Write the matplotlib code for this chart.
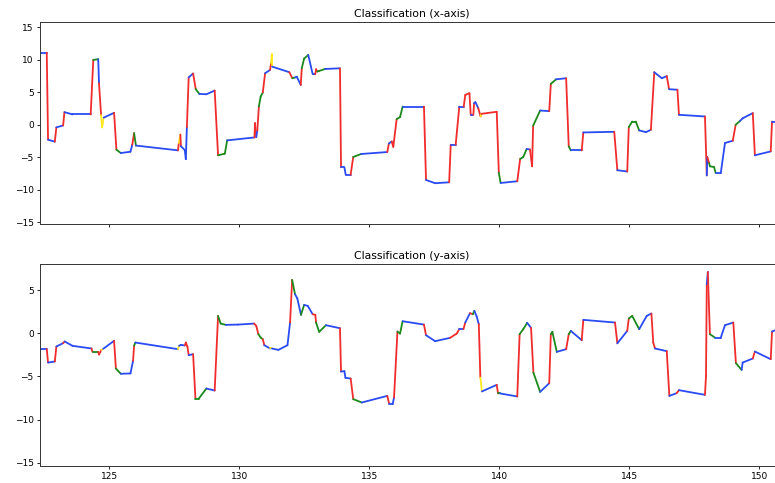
import numpy as np
import matplotlib
matplotlib.use("Agg")
from matplotlib import pyplot as plt
from matplotlib.collections import LineCollection

# class of each sample: b / r / g / y (segment ending at a sample takes its class)
tx = [122.33, 122.59, 122.64, 122.90, 122.96, 123.22, 123.27, 123.58, 124.28, 124.38,
      124.57, 124.60, 124.68, 124.72, 124.78, 125.18, 125.27, 125.44, 125.81, 125.88,
      125.95, 126.02, 127.64, 127.67, 127.73, 127.75, 127.90, 127.94, 127.98, 128.05,
      128.22, 128.32, 128.46, 128.73, 129.05, 129.18, 129.44, 129.53, 130.58, 130.60,
      130.65, 130.69, 130.75, 130.82, 130.90, 130.99, 131.18, 131.22, 131.25, 131.26,
      131.92, 132.04, 132.15, 132.21, 132.36, 132.40, 132.49, 132.65, 132.82, 132.92,
      132.95, 133.00, 133.07, 133.30, 133.87, 133.91, 134.04, 134.09, 134.28, 134.38,
      134.68, 135.69, 135.75, 135.86, 135.92, 136.05, 136.18, 136.28, 137.10, 137.18,
      137.53, 138.07, 138.13, 138.32, 138.46, 138.63, 138.69, 138.85, 138.90, 139.00,
      139.03, 139.08, 139.19, 139.28, 139.31, 139.90, 139.98, 140.05, 140.69, 140.80,
      140.92, 141.05, 141.18, 141.26, 141.30, 141.57, 141.92, 141.98, 142.18, 142.57,
      142.67, 142.75, 143.17, 143.23, 144.42, 144.54, 144.92, 144.98, 145.11, 145.25,
      145.38, 145.64, 145.83, 145.96, 146.25, 146.44, 146.53, 146.85, 146.91, 147.91,
      147.98, 148.00, 148.07, 148.10, 148.26, 148.32, 148.52, 148.68, 148.98, 149.09,
      149.26, 149.36, 149.75, 149.83, 150.44, 150.49, 150.80]
vx = [11.1, 11.1, -2.3, -2.6, -0.4, -0.1, 1.95, 1.6, 1.6, 10.0,
      10.1, 6.4, 1.5, -0.4, 1.1, 1.84, -3.84, -4.35, -4.15, -3.07,
      -1.28, -3.2, -3.94, -2.8, -1.5, -3.3, -3.9, -5.3, -0.36, 7.3,
      7.9, 5.5, 4.76, 4.7, 5.27, -4.7, -4.45, -2.4, -1.95, 0.26,
      -1.9, -0.87, 2.8, 4.35, 4.97, 7.94, 8.45, 9.5, 10.9, 8.96,
      8.1, 7.17, 7.3, 7.4, 6.14, 8.7, 10.2, 10.75, 7.8, 7.8,
      8.55, 8.2, 8.3, 8.6, 8.7, -6.55, -6.55, -7.68, -7.68, -4.96,
      -4.5, -4.2, -2.9, -2.56, -3.4, 0.87, 1.18, 2.8, 2.8, -8.5,
      -9.0, -8.86, -3.07, -3.07, 2.8, 2.8, 4.6, 4.86, 1.54, 1.54,
      3.33, 3.48, 2.56, 1.28, 1.69, 2.0, -7.4, -8.96, -8.7, -5.27,
      -4.96, -3.74, -3.8, -6.4, -0.15, 2.2, 2.1, 6.3, 7.0, 7.17,
      -3.33, -3.95, -3.95, -1.18, -1.08, -7.0, -7.2, -0.36, 0.5, 0.5,
      -0.87, -1.13, -0.77, 8.1, 7.17, 7.5, 5.48, 5.4, 1.54, 1.28,
      -7.8, -4.96, -5.9, -6.4, -6.5, -7.4, -7.4, -2.8, -2.46, 0.0,
      0.6, 1.0, 1.8, -4.7, -4.1, 0.5, 0.5]
cx = list("bbrbrbrbbr"
          "gbryybrgbb"
          "rgbryrbbbr"
          "brgbbrggbr"
          "rbrggrbryy"
          "brgbbrggbb"
          "rrggbrbbbr"
          "gbrbrrggbr"
          "bbrbrbrrrb"
          "rbbryrrgbr"
          "ggbrrgbrgb"
          "rgbrbrbrgg"
          "gbbrbbrbrb"
          "rbrgggbbbr"
          "gbbrbrb")

ty = [122.36, 122.59, 122.64, 122.90, 122.96, 123.22, 123.28, 123.58, 124.31, 124.35,
      124.57, 124.60, 124.69, 124.76, 125.18, 125.25, 125.44, 125.81, 125.91, 125.95,
      126.00, 127.64, 127.68, 127.75, 127.90, 127.94, 128.00, 128.05, 128.22, 128.31,
      128.44, 128.73, 129.05, 129.18, 129.28, 129.48, 129.95, 130.57, 130.65, 130.73,
      130.82, 130.90, 130.96, 131.18, 131.25, 131.50, 131.85, 131.95, 132.03, 132.14,
      132.23, 132.37, 132.49, 132.63, 132.82, 132.92, 132.95, 133.07, 133.33, 133.87,
      133.91, 134.04, 134.08, 134.28, 134.38, 134.71, 135.69, 135.76, 135.90, 135.95,
      136.08, 136.18, 136.28, 137.10, 137.18, 137.53, 138.10, 138.36, 138.46, 138.62,
      138.69, 138.87, 138.98, 139.04, 139.13, 139.21, 139.27, 139.33, 139.90, 139.95,
      140.03, 140.69, 140.78, 140.92, 141.07, 141.22, 141.31, 141.57, 141.92, 141.98,
      142.04, 142.21, 142.57, 142.67, 142.75, 143.17, 143.23, 144.45, 144.54, 144.92,
      144.98, 145.11, 145.38, 145.67, 145.85, 145.92, 145.99, 146.44, 146.54, 146.82,
      146.91, 147.91, 147.95, 147.98, 148.02, 148.10, 148.29, 148.52, 148.68, 149.00,
      149.10, 149.32, 149.36, 149.75, 149.83, 150.44, 150.49, 150.80]
vy = [-1.85, -1.85, -3.4, -3.28, -1.54, -1.15, -0.96, -1.46, -1.77, -2.16,
      -2.16, -2.47, -1.93, -1.81, -0.88, -4.09, -4.7, -4.66, -3.2, -1.46,
      -1.08, -1.85, -1.46, -1.35, -1.42, -1.08, -1.54, -2.54, -2.43, -7.57,
      -7.57, -6.41, -6.64, 2.0, 1.12, 0.97, 1.0, 1.12, 0.85, -0.11,
      -0.5, -0.69, -1.39, -1.77, -1.77, -1.93, -1.39, 1.24, 6.18, 4.52,
      4.02, 2.13, 3.28, 3.17, 2.2, 2.13, 1.24, 0.16, 0.93, 0.58,
      -4.44, -4.4, -5.17, -5.25, -7.64, -8.03, -7.26, -8.15, -8.15, -7.45,
      0.19, -0.04, 1.39, 1.0, -0.23, -0.92, -0.54, -0.04, 0.47, 0.47,
      1.24, 2.32, 2.2, 2.59, 1.93, 1.05, -5.13, -6.75, -5.98, -6.98,
      -6.98, -7.33, -0.11, 0.47, 1.2, 0.62, -4.56, -6.8, -5.79, -0.11,
      0.16, -2.16, -1.85, -0.11, 0.27, -0.81, 1.55, 1.24, -1.17, 0.27,
      1.7, 2.01, 0.47, 2.01, 2.28, -1.08, -1.77, -2.08, -7.26, -6.95,
      -6.6, -7.14, -4.94, 5.68, 7.1, -0.11, -0.5, -0.5, 0.93, 1.24,
      -3.47, -4.25, -3.4, -2.93, -2.12, -3.01, 0.19, 0.6]
cy = list("bbrbrbrbbr"
          "grrybrgbbr"
          "gbybbrrrbr"
          "ggbrggbbrr"
          "ggrbybbbrg"
          "bbgbbrrggb"
          "rbbbrgbrbb"
          "rggbrbbrrb"
          "rbrgbbrybr"
          "gbrggbrgbr"
          "ggbrgbrbrb"
          "rggbbrrbrb"
          "rbrrbrgbbb"
          "rgbbrbrb")

palette = {"b": "#2a4bf2", "r": "#f02c2c", "g": "#1b8a1b", "y": "#ffe81c"}


def colored_line(ax, t, v, cls):
    pts = np.column_stack([t, v])
    segs = np.stack([pts[:-1], pts[1:]], axis=1)
    cols = [palette[c] for c in cls[1:]]
    lc = LineCollection(segs, colors=cols, linewidths=1.3, capstyle="round")
    ax.add_collection(lc)


plt.rcParams["font.family"] = "DejaVu Sans"
fig = plt.figure(figsize=(7.75, 4.83), dpi=100)
ax1 = fig.add_axes([0.0516, 0.536, 0.96, 0.418])
ax2 = fig.add_axes([0.0516, 0.035, 0.96, 0.418], sharex=ax1)

colored_line(ax1, tx, vx, cx)
colored_line(ax2, ty, vy, cy)

ax1.set_xlim(122.33, 150.95)
ax1.set_ylim(-15.3, 15.8)
ax2.set_ylim(-15.4, 8.0)
ax1.set_yticks([-15, -10, -5, 0, 5, 10, 15])
ax2.set_yticks([-15, -10, -5, 0, 5])
ax1.set_xticks([125, 130, 135, 140, 145, 150])
ax1.tick_params(labelbottom=False)

for ax, title in [(ax1, "Classification (x-axis)"), (ax2, "Classification (y-axis)")]:
    ax.set_title(title, fontsize=7.8, pad=4)
    ax.tick_params(labelsize=6.5, length=2.5, width=0.6, pad=2)
    for s in ax.spines.values():
        s.set_linewidth(0.7)
        s.set_color("#333333")

fig.savefig("out.png", dpi=100)
